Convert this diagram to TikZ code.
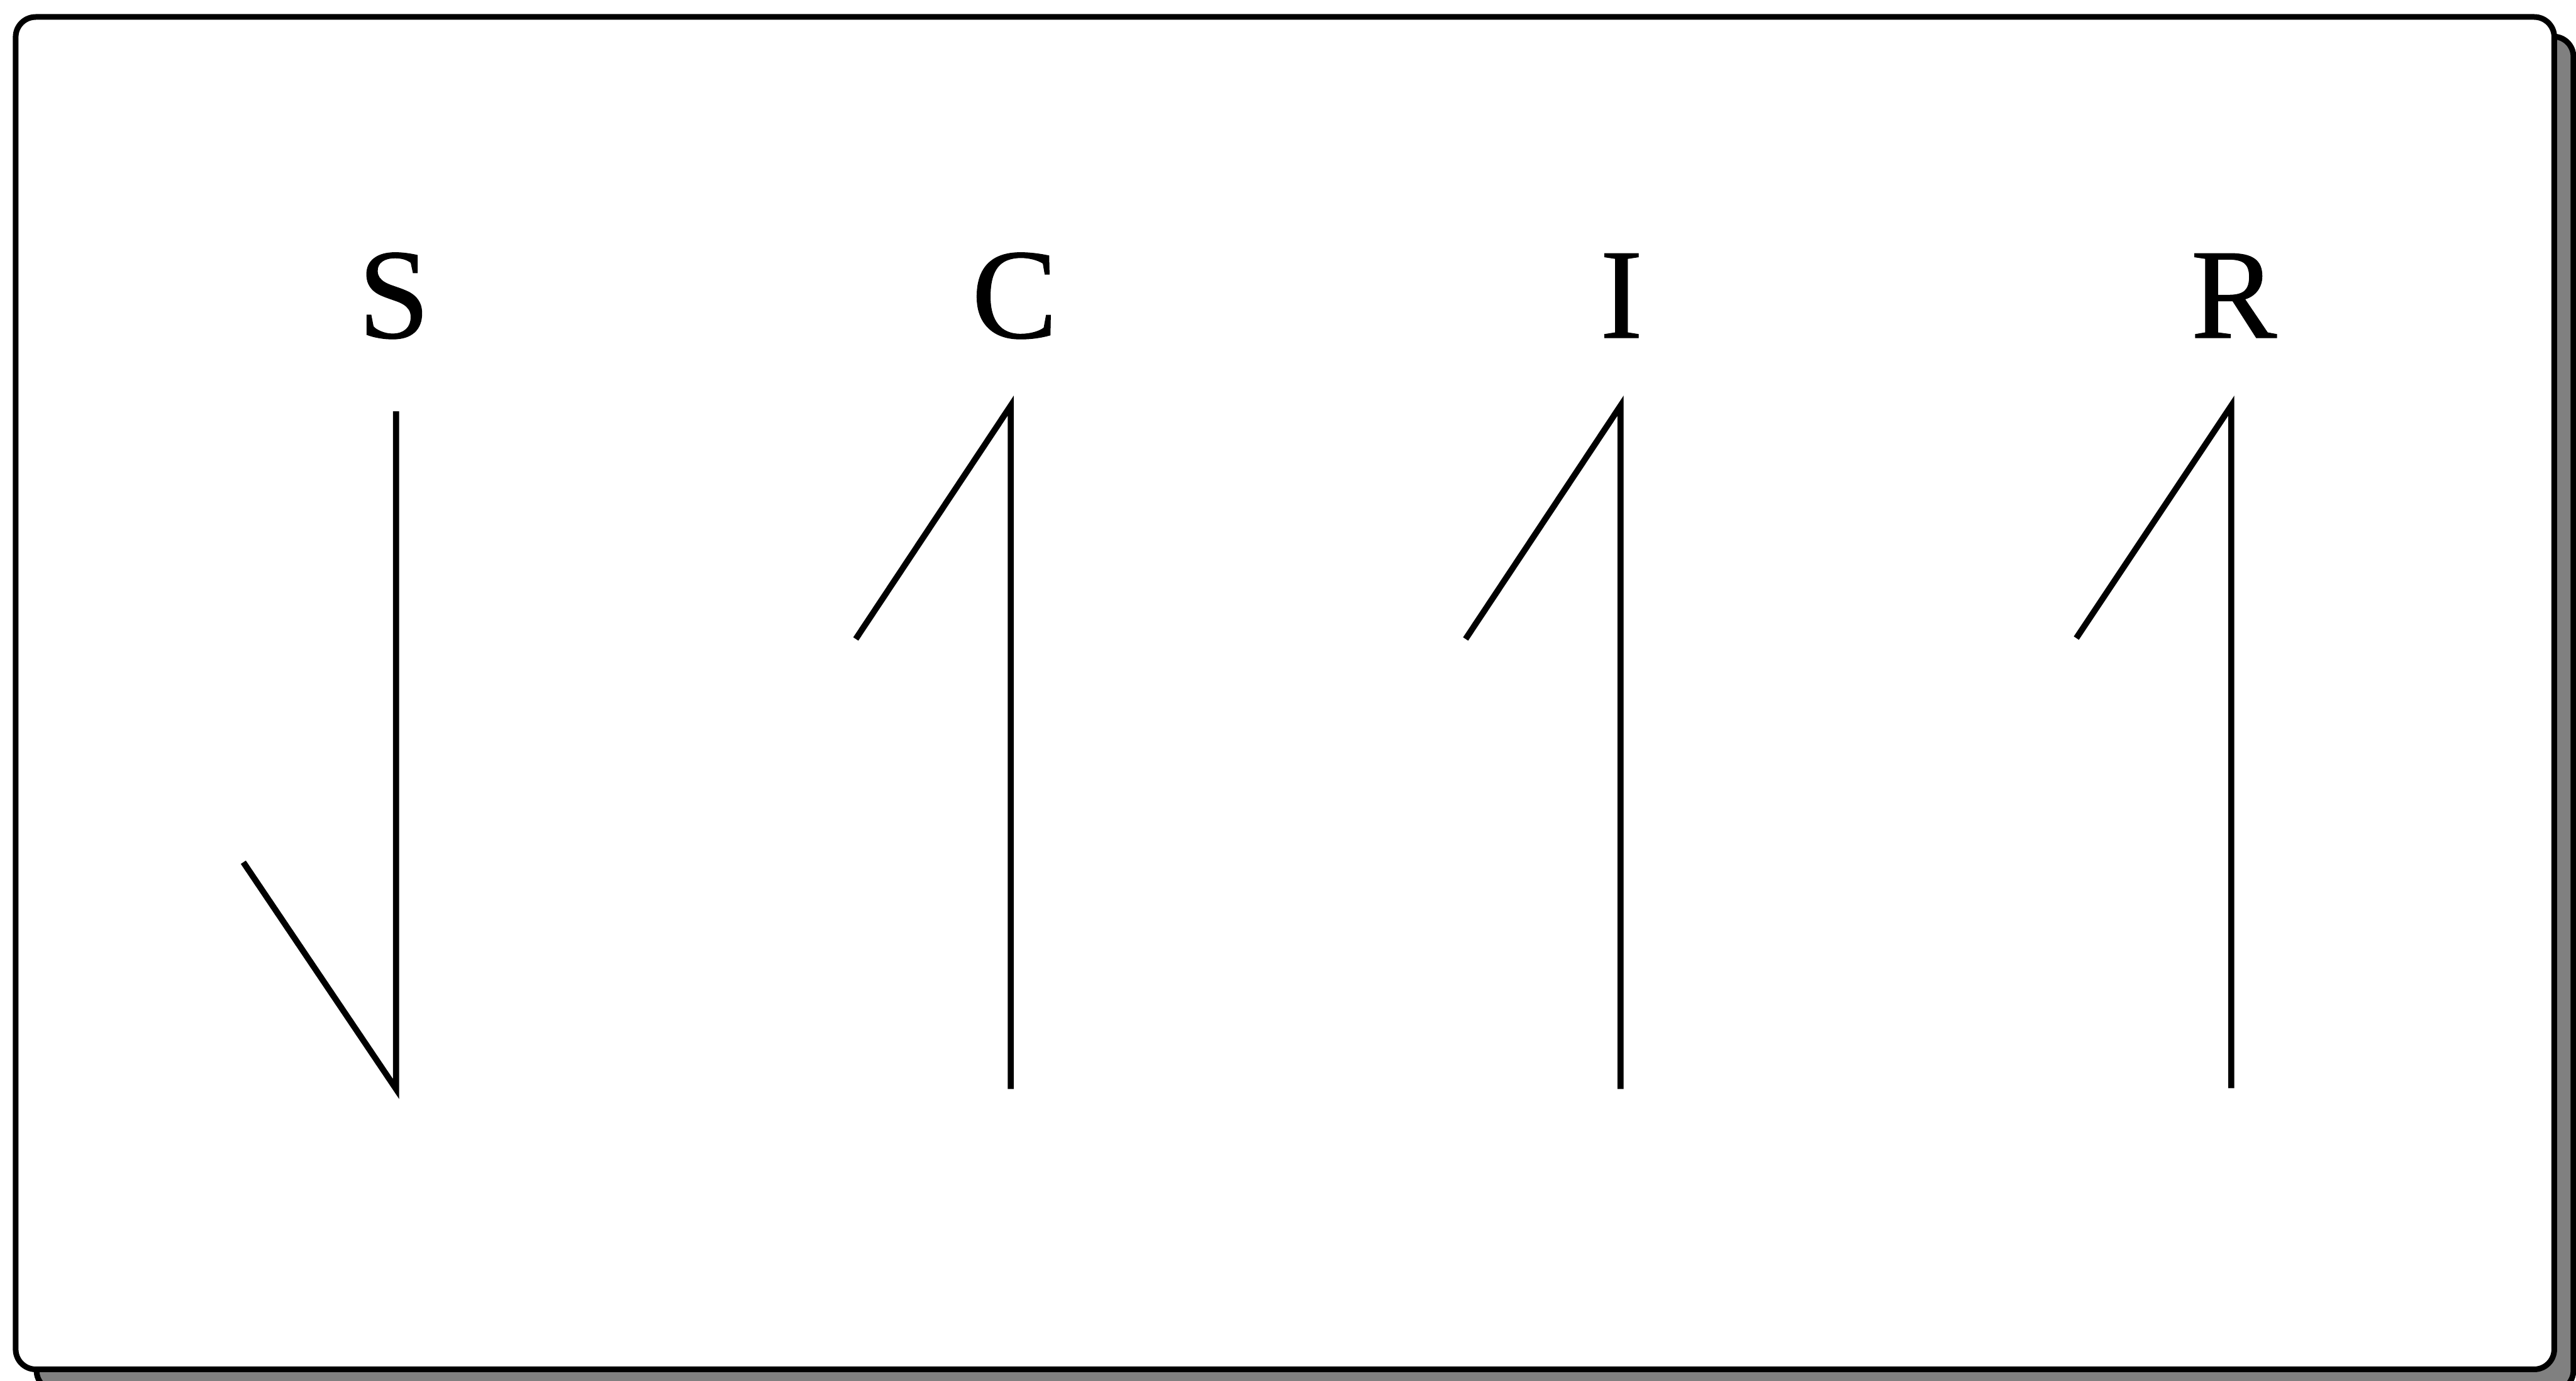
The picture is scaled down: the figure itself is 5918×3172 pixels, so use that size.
\documentclass[tikz,border=0pt]{standalone}
\usepackage{fontspec}
\setmainfont{Liberation Serif}
\newfontfamily\lettersfont[FakeBold=0.6]{Liberation Serif}
\begin{document}
\begin{tikzpicture}[x=0.01cm,y=-0.01cm,
  frame/.style={line width=0.13cm, rounded corners=0.46cm},
  stroke/.style={line width=0.14cm, line join=miter, line cap=butt},
  letter/.style={anchor=base, inner sep=0pt, font=\lettersfont\fontsize{84pt}{90pt}\selectfont}]
\useasboundingbox (0,0) rectangle (5918,3172);
% shadow
\draw[frame, fill=black!50] (84,84) rectangle (5912,3195);
% main frame
\draw[frame, fill=white] (36,39) rectangle (5868,3146);
% letters
\node[letter] (S) at (905,776) {S};
\node[letter] (C) at (2331,776) {C};
\node[letter] (I) at (3725,776) {I};
\node[letter] (R) at (5132,776) {R};
% S strokes
\coordinate (s1) at (910,945);
\coordinate (s2) at (910,2502);
\coordinate (s3) at (559,1981);
\draw[stroke] (s1) -- (s2) -- (s3);
% C strokes
\coordinate (c1) at (2322,2502);
\coordinate (c2) at (2322,932);
\coordinate (c3) at (1966,1468);
\draw[stroke] (c1) -- (c2) -- (c3);
% I strokes
\coordinate (i1) at (3723,2502);
\coordinate (i2) at (3723,932);
\coordinate (i3) at (3367,1468);
\draw[stroke] (i1) -- (i2) -- (i3);
% R strokes
\coordinate (r1) at (5126,2500);
\coordinate (r2) at (5126,932);
\coordinate (r3) at (4770,1466);
\draw[stroke] (r1) -- (r2) -- (r3);
\end{tikzpicture}
\end{document}
